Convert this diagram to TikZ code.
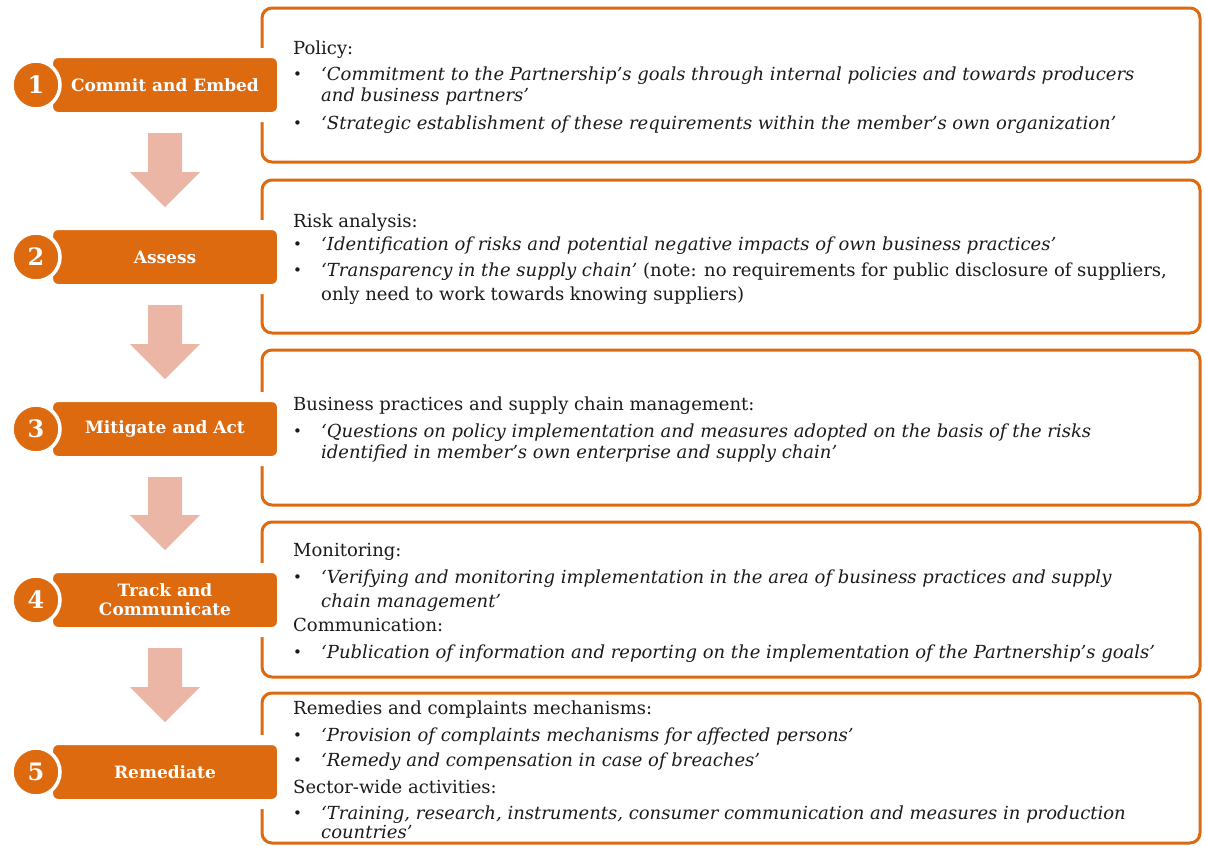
\documentclass[tikz,border=0pt]{standalone}
\usepackage{fontspec}
\setmainfont{DejaVu Serif}
\usetikzlibrary{calc}
\definecolor{orng}{HTML}{DE6A10}
\definecolor{arrowc}{HTML}{ECB6A6}
\definecolor{txtc}{HTML}{1A1A1A}
\newcommand\bulitem[1]{\makebox[28pt][l]{\upshape\raisebox{1pt}{\fontsize{15}{15}\selectfont\textbullet}}\textit{#1}}
\begin{document}
\begin{tikzpicture}[x=1pt,y=-1pt,
  panel/.style={draw=orng, line width=3pt, rounded corners=10pt, minimum width=938pt, inner sep=0pt},
  lbl/.style={fill=orng, draw=white, line width=10pt, rounded corners=10pt, minimum width=234pt, minimum height=64pt, inner sep=0pt, text=white, align=center, font=\fontsize{17}{19}\selectfont\bfseries},
  num/.style={circle, fill=orng, draw=white, line width=3.5pt, minimum size=48pt, inner sep=0pt, text=white, font=\fontsize{24}{24}\selectfont\bfseries},
  txt/.style={anchor=base west, inner sep=0pt, text=txtc, font=\fontsize{18}{21}\selectfont},
  arr/.style={fill=arrowc}
]
\useasboundingbox (0,0) rectangle (1205,846);
% panels
\node[panel, minimum height=154pt] (p1) at (731,85) {};
\node[panel, minimum height=153pt] (p2) at (731,256.5) {};
\node[panel, minimum height=155pt] (p3) at (731,427.5) {};
\node[panel, minimum height=155pt] (p4) at (731,599.5) {};
\node[panel, minimum height=150pt] (p5) at (731,768) {};
% labels
\node[lbl] (l1) at (165,85) {Commit and Embed};
\node[lbl] (l2) at (165,257) {Assess};
\node[lbl] (l3) at (165,429) {Mitigate and Act};
\node[lbl] (l4) at (165,600) {Track and\\Communicate};
\node[lbl] (l5) at (165,772) {Remediate};
% number circles
\node[num] (n1) at (36,85) {1};
\node[num] (n2) at (36,257) {2};
\node[num] (n3) at (36,429) {3};
\node[num] (n4) at (36,600) {4};
\node[num] (n5) at (36,772) {5};
% block arrows
\foreach \a/\b in {l1/l2,l2/l3,l3/l4,l4/l5}{
  \fill[arr] ($(\a.south)+(-17,11)$) -- ($(\a.south)+(17,11)$) -- ($(\b.north)+(17,-48)$) -- ($(\b.north)+(35,-48)$) -- ($(\b.north)+(0,-13)$) -- ($(\b.north)+(-35,-48)$) -- ($(\b.north)+(-17,-48)$) -- cycle;
}
% panel 1 text
\node[txt] (t1a) at (293,54) {Policy:};
\node[txt] (t1b) at (293,80) {\bulitem{‘Commitment to the Partnership’s goals through internal policies and towards producers}};
\node[txt] (t1c) at (321,101) {\textit{and business partners’}};
\node[txt] (t1d) at (293,129) {\bulitem{‘Strategic establishment of these requirements within the member’s own organization’}};
% panel 2 text
\node[txt] (t2a) at (293,227) {Risk analysis:};
\node[txt] (t2b) at (293,250) {\bulitem{‘Identification of risks and potential negative impacts of own business practices’}};
\node[txt] (t2c) at (293,276) {\bulitem{‘Transparency in the supply chain’}\ (note: no requirements for public disclosure of suppliers,};
\node[txt] (t2d) at (321,300) {only need to work towards knowing suppliers)};
% panel 3 text
\node[txt] (t3a) at (293,410) {Business practices and supply chain management:};
\node[txt] (t3b) at (293,437) {\bulitem{‘Questions on policy implementation and measures adopted on the basis of the risks}};
\node[txt] (t3c) at (321,458) {\textit{identified in member’s own enterprise and supply chain’}};
% panel 4 text
\node[txt] (t4a) at (293,556) {Monitoring:};
\node[txt] (t4b) at (293,583) {\bulitem{‘Verifying and monitoring implementation in the area of business practices and supply}};
\node[txt] (t4c) at (321,607) {\textit{chain management’}};
\node[txt] (t4d) at (293,631) {Communication:};
\node[txt] (t4e) at (293,658) {\bulitem{‘Publication of information and reporting on the implementation of the Partnership’s goals’}};
% panel 5 text
\node[txt] (t5a) at (293,714) {Remedies and complaints mechanisms:};
\node[txt] (t5b) at (293,741) {\bulitem{‘Provision of complaints mechanisms for affected persons’}};
\node[txt] (t5c) at (293,766) {\bulitem{‘Remedy and compensation in case of breaches’}};
\node[txt] (t5d) at (293,793) {Sector-wide activities:};
\node[txt] (t5e) at (293,819) {\bulitem{‘Training, research, instruments, consumer communication and measures in production}};
\node[txt] (t5f) at (321,838) {\textit{countries’}};
\end{tikzpicture}
\end{document}
